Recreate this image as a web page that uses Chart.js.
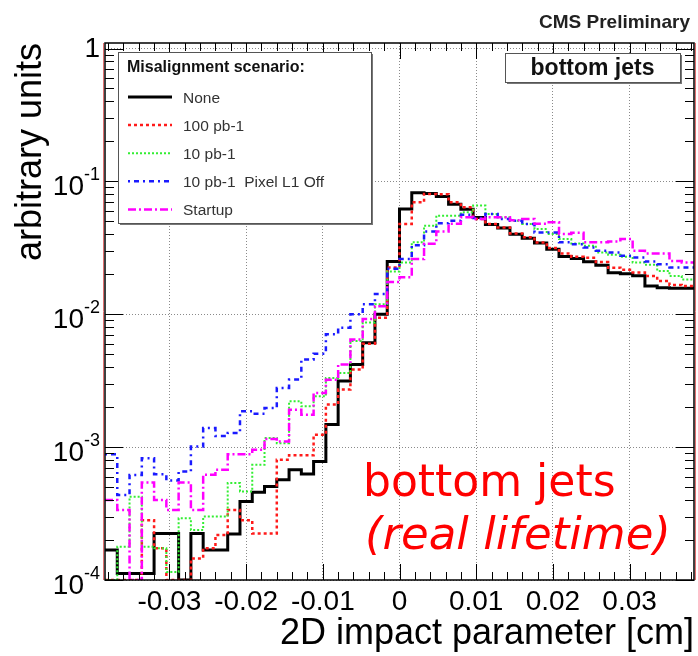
<!DOCTYPE html>
<html>
<head>
<meta charset="utf-8">
<script src="https://cdn.jsdelivr.net/npm/chart.js@4.4.1/dist/chart.umd.min.js"></script>
<style>
  html, body { margin: 0; padding: 0; background: #fff; }
</style>
</head>
<body>
<canvas id="ipChart" width="698" height="656"></canvas>
<script>
// 48 bins of 0.0016 cm, from -0.0384 to 0.0384
const binLow = -0.0384;
const binWidth = 0.0016;
const yMin = 1e-4;
const yMax = 1.1;

const legendLabels = ["None", "100 pb-1", "10 pb-1", "10 pb-1  Pixel L1 Off", "Startup"];

const noneVals = [
  1.68e-4, 1.12e-4, 1.12e-4, 1.12e-4, 2.24e-4, 2.24e-4, 0, 2.24e-4,
  1.68e-4, 1.68e-4, 2.22e-4, 3.89e-4, 4.57e-4, 5.05e-4, 5.67e-4, 6.75e-4,
  6.29e-4, 7.80e-4, 1.48e-3, 3.14e-3, 4.19e-3, 6.11e-3, 1.0e-2, 0.0249,
  0.062, 0.082, 0.081, 0.0769, 0.0672, 0.0617, 0.0534, 0.0474,
  0.0446, 0.0400, 0.0374, 0.0344, 0.0309, 0.0272, 0.0263, 0.0248,
  0.0234, 0.0205, 0.0202, 0.0195, 0.0163, 0.0158, 0.0157, 0.0157
];
const pb100Vals = [
  0, 0, 0, 2.82e-4, 1.73e-4, 0, 0, 1.45e-4,
  1.73e-4, 2.18e-4, 3.37e-4, 2.82e-4, 2.24e-4, 2.24e-4, 8.05e-4, 8.68e-4,
  8.68e-4, 1.24e-3, 2.09e-3, 2.71e-3, 3.84e-3, 6.0e-3, 9.4e-3, 0.0225,
  0.0478, 0.0695, 0.0805, 0.080, 0.0695, 0.0638, 0.0521, 0.0478,
  0.045, 0.0406, 0.038, 0.0347, 0.0315, 0.0287, 0.0271, 0.0266,
  0.0247, 0.0224, 0.0216, 0.0206, 0.0194, 0.0178, 0.0166, 0.0163
];
const pb10Vals = [
  0, 1.78e-4, 4.24e-4, 1.78e-4, 1.73e-4, 1.15e-4, 2.91e-4, 2.38e-4,
  3.0e-4, 3.0e-4, 5.36e-4, 4.64e-4, 7.36e-4, 1.17e-3, 1.07e-3, 2.21e-3,
  2.03e-3, 2.41e-3, 3.32e-3, 3.62e-3, 6.28e-3, 8.65e-3, 0.0119, 0.021,
  0.0245, 0.0348, 0.0464, 0.0552, 0.0552, 0.0585, 0.0657, 0.0568,
  0.0537, 0.0506, 0.0478, 0.0438, 0.0402, 0.0368, 0.0341, 0.0328,
  0.0292, 0.028, 0.0271, 0.0245, 0.0236, 0.0212, 0.0194, 0.0183
];
const pixelOffVals = [
  8.85e-4, 4.37e-4, 6.18e-4, 8.26e-4, 6.25e-4, 5.61e-4, 6.55e-4, 1.01e-3,
  1.39e-3, 1.21e-3, 1.28e-3, 1.86e-3, 1.78e-3, 1.97e-3, 2.79e-3, 3.23e-3,
  4.57e-3, 5.05e-3, 7.07e-3, 7.93e-3, 0.01, 0.0119, 0.0142, 0.022,
  0.026, 0.0331, 0.0419, 0.0485, 0.0506, 0.0562, 0.053, 0.0568,
  0.052, 0.0506, 0.0478, 0.0413, 0.0413, 0.0348, 0.0337, 0.0318,
  0.0301, 0.0292, 0.0275, 0.0267, 0.0249, 0.0238, 0.0225, 0.0225
];
const startupVals = [
  4.0e-4, 3.37e-4, 0, 5.42e-4, 4.0e-4, 3.37e-4, 5.42e-4, 3.37e-4,
  6.2e-4, 6.75e-4, 8.85e-4, 8.85e-4, 9.55e-4, 1.15e-3, 1.1e-3, 1.91e-3,
  1.75e-3, 2.55e-3, 3.22e-3, 4.19e-3, 6.47e-3, 9.2e-3, 0.0115, 0.0175,
  0.019, 0.026, 0.034, 0.042, 0.048, 0.0537, 0.052, 0.0537,
  0.0537, 0.051, 0.052, 0.048, 0.0492, 0.0402, 0.041, 0.0348,
  0.0348, 0.0353, 0.0368, 0.0301, 0.0287, 0.0287, 0.0252, 0.0245
];

const xTickValues = [-0.03, -0.02, -0.01, 0, 0.01, 0.02, 0.03];
const xTickLabels = ["-0.03", "-0.02", "-0.01", "0", "0.01", "0.02", "0.03"];
const yTickValues = [1, 0.1, 0.01, 0.001, 0.0001];
const yTickExps = ["", "-1", "-2", "-3", "-4"];

const FONT = "'Liberation Sans', Arial, Helvetica, sans-serif";

const series = [
  { label: legendLabels[0], values: noneVals, color: "#000000", width: 3, dash: [] },
  { label: legendLabels[1], values: pb100Vals, color: "#ff1a1a", width: 2.5, dash: [3, 3] },
  { label: legendLabels[2], values: pb10Vals, color: "#33ee33", width: 2, dash: [2, 2] },
  { label: legendLabels[3], values: pixelOffVals, color: "#1a1aff", width: 2.5, dash: [2, 4, 5, 4] },
  { label: legendLabels[4], values: startupVals, color: "#ff00ff", width: 2.5, dash: [8, 3, 2, 3] }
];

// histogram -> points at bin low edges, plus closing point at the last upper edge
function toSteps(values) {
  const pts = values.map((v, i) => ({ x: binLow + i * binWidth, y: v > 0 ? v : yMin }));
  const last = values[values.length - 1];
  pts.push({ x: binLow + values.length * binWidth, y: last > 0 ? last : yMin });
  return pts;
}

const rootStyle = {
  id: "rootStyle",
  afterDatasetsDraw(chart) {
    const { ctx, chartArea: a, scales } = chart;
    const x = scales.x, y = scales.y;
    ctx.save();

    // ticks inside frame
    ctx.strokeStyle = "#000";
    ctx.lineWidth = 1;
    ctx.setLineDash([]);
    ctx.beginPath();
    for (let k = -19; k <= 19; k++) {
      const v = k * 0.002;
      const px = Math.round(x.getPixelForValue(v)) + 0.5;
      const len = k % 5 === 0 ? 16 : 8;
      ctx.moveTo(px, a.bottom); ctx.lineTo(px, a.bottom - len);
      ctx.moveTo(px, a.top); ctx.lineTo(px, a.top + len);
    }
    for (let e = -4; e <= 0; e++) {
      for (let m = 1; m <= 9; m++) {
        const v = m * Math.pow(10, e);
        if (v > yMax) break;
        const py = Math.round(y.getPixelForValue(v)) + 0.5;
        const len = m === 1 ? 18 : 9;
        ctx.moveTo(a.left, py); ctx.lineTo(a.left + len, py);
        ctx.moveTo(a.right, py); ctx.lineTo(a.right - len, py);
      }
    }
    ctx.stroke();

    // frame
    ctx.lineWidth = 1.5;
    ctx.strokeRect(a.left, a.top, a.right - a.left, a.bottom - a.top);
    ctx.strokeStyle = "#e07070";
    ctx.lineWidth = 1;
    ctx.beginPath();
    ctx.moveTo(a.left - 1.5, a.top); ctx.lineTo(a.left - 1.5, a.bottom);
    ctx.moveTo(a.right + 1.5, a.top); ctx.lineTo(a.right + 1.5, a.bottom);
    ctx.stroke();

    // y labels 1, 10^-n
    ctx.fillStyle = "#000";
    ctx.textAlign = "right";
    ctx.textBaseline = "alphabetic";
    yTickValues.forEach((v, i) => {
      const py = y.getPixelForValue(v);
      if (yTickExps[i] === "") {
        ctx.font = "28px " + FONT;
        ctx.fillText("1", 100, py + 8);
      } else {
        ctx.font = "18px " + FONT;
        ctx.fillText(yTickExps[i], 100, py - 1);
        const w = ctx.measureText(yTickExps[i]).width;
        ctx.font = "28px " + FONT;
        ctx.fillText("10", 100 - w, py + 14);
      }
    });

    // legend box
    const lx = 118, ly = 52, lw = 253, lh = 171;
    ctx.fillStyle = "#777";
    ctx.fillRect(lx + 2, ly + lh, lw, 2);
    ctx.fillRect(lx + lw, ly + 2, 2, lh);
    ctx.fillStyle = "#fff";
    ctx.fillRect(lx, ly, lw, lh);
    ctx.strokeStyle = "#555";
    ctx.lineWidth = 1;
    ctx.strokeRect(lx + 0.5, ly + 0.5, lw, lh);
    ctx.textAlign = "left";
    ctx.fillStyle = "#111";
    ctx.font = "bold 16px " + FONT;
    ctx.fillText("Misalignment scenario:", 127, 72);
    ctx.font = "15.5px " + FONT;
    series.forEach((s, k) => {
      const ry = 97 + k * 28.1;
      ctx.strokeStyle = s.color;
      ctx.lineWidth = s.width;
      ctx.setLineDash(s.dash);
      ctx.beginPath();
      ctx.moveTo(128, ry); ctx.lineTo(172, ry);
      ctx.stroke();
      ctx.setLineDash([]);
      ctx.fillStyle = "#333";
      ctx.fillText(s.label, 183, ry + 5.5);
    });

    // "bottom jets" pave
    const bx = 505, by = 53, bw = 175, bh = 29;
    ctx.fillStyle = "#777";
    ctx.fillRect(bx + 2, by + bh, bw, 2);
    ctx.fillRect(bx + bw, by + 2, 2, bh);
    ctx.fillStyle = "#fff";
    ctx.fillRect(bx, by, bw, bh);
    ctx.strokeStyle = "#555";
    ctx.lineWidth = 1;
    ctx.strokeRect(bx + 0.5, by + 0.5, bw, bh);
    ctx.fillStyle = "#111";
    ctx.font = "bold 23px " + FONT;
    ctx.textAlign = "center";
    ctx.fillText("bottom jets", bx + bw / 2, 75);

    // header
    ctx.textAlign = "right";
    ctx.font = "bold 19px " + FONT;
    ctx.fillStyle = "#222";
    ctx.fillText("CMS Preliminary", 690, 28);

    // red annotation
    ctx.textAlign = "left";
    ctx.fillStyle = "#ff0000";
    ctx.font = "44px 'DejaVu Sans', Verdana, sans-serif";
    ctx.fillText("bottom jets", 363, 496);
    ctx.font = "italic 45px 'DejaVu Sans', Verdana, sans-serif";
    ctx.fillText("(real lifetime)", 365, 549);

    ctx.restore();
  }
};

new Chart(document.getElementById("ipChart").getContext("2d"), {
  type: "line",
  data: {
    datasets: series.map((s, k) => ({
      label: s.label,
      data: toSteps(s.values),
      borderColor: s.color,
      borderWidth: s.width,
      borderDash: s.dash,
      stepped: true,
      pointRadius: 0,
      fill: false,
      order: series.length - k
    }))
  },
  options: {
    responsive: false,
    animation: false,
    devicePixelRatio: 1,
    layout: { padding: { top: 43, right: 4, left: 0, bottom: 0 } },
    plugins: {
      legend: { display: false },
      tooltip: { enabled: false }
    },
    scales: {
      x: {
        type: "linear",
        min: binLow,
        max: -binLow,
        afterBuildTicks: (s) => { s.ticks = xTickValues.map((v) => ({ value: v })); },
        afterFit: (s) => { s.height = 76; },
        grid: { color: "#8a8a8a", lineWidth: 1, drawTicks: false },
        border: { display: false, dash: [1, 2] },
        ticks: {
          autoSkip: false,
          maxRotation: 0,
          padding: 5,
          color: "#000",
          font: { family: FONT, size: 28 },
          callback: (v, i) => xTickLabels[i]
        },
        title: {
          display: true,
          text: "2D impact parameter [cm]",
          align: "end",
          color: "#000",
          font: { family: FONT, size: 36 },
          padding: 0
        }
      },
      y: {
        type: "logarithmic",
        min: yMin,
        max: yMax,
        afterBuildTicks: (s) => { s.ticks = yTickValues.map((v) => ({ value: v })); },
        afterFit: (s) => { s.width = 105; },
        grid: { color: "#8a8a8a", lineWidth: 1, drawTicks: false },
        border: { display: false, dash: [1, 2] },
        ticks: { display: false },
        title: {
          display: true,
          text: "arbitrary units",
          align: "end",
          color: "#000",
          font: { family: FONT, size: 36 },
          padding: { top: 9, bottom: 0 }
        }
      }
    }
  },
  plugins: [rootStyle]
});
</script>
</body>
</html>
